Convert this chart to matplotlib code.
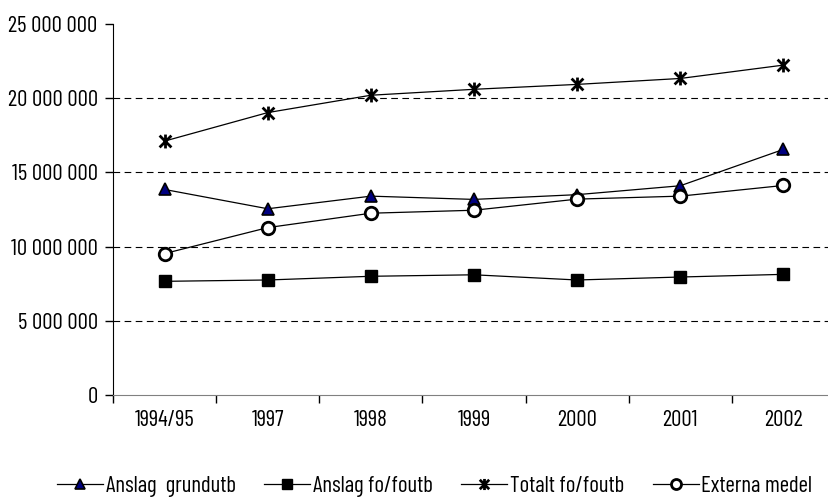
import matplotlib
matplotlib.use("Agg")
import matplotlib.pyplot as plt
from matplotlib.path import Path
import numpy as np

categories = ["1994/95", "1997", "1998", "1999", "2000", "2001", "2002"]
anslag_grundutb = [13850000, 12550000, 13400000, 13180000, 13500000, 14100000, 16550000]
anslag_fo = [7660000, 7750000, 8000000, 8100000, 7750000, 7950000, 8130000]
totalt_fo = [17110000, 19030000, 20200000, 20600000, 20930000, 21330000, 22230000]
externa = [9530000, 11280000, 12250000, 12450000, 13200000, 13400000, 14120000]
labels = ["Anslag  grundutb", "Anslag fo/foutb", "Totalt fo/foutb", "Externa medel"]
yticks = [0, 5000000, 10000000, 15000000, 20000000, 25000000]

plt.rcParams['font.family'] = ['Barlow Condensed', 'DejaVu Sans']
fs = 16.5

star = Path([(0, -1), (0, 1), (-0.85, -0.85), (0.85, 0.85), (-0.85, 0.85), (0.85, -0.85)],
            [Path.MOVETO, Path.LINETO, Path.MOVETO, Path.LINETO, Path.MOVETO, Path.LINETO])

fig = plt.figure(figsize=(8.29, 4.99), dpi=100)
ax = fig.add_axes([113/829, 104/499, 722/829, 371/499])
x = np.arange(len(categories))

ax.plot(x, anslag_grundutb, color='black', lw=0.9, marker='^', ms=9, mfc='#000080', mec='black', mew=1.2, label=labels[0], zorder=3)
ax.plot(x, anslag_fo, color='black', lw=0.9, marker='s', ms=9, mfc='black', mec='black', label=labels[1], zorder=3)
ax.plot(x, totalt_fo, color='black', lw=0.9, marker=star, ms=10, mec='black', mew=2, label=labels[2], zorder=3)
ax.plot(x, externa, color='black', lw=0.9, marker='o', ms=9, mfc='white', mec='black', mew=2, label=labels[3], zorder=3)

for v in yticks[1:-1]:
    ax.axhline(v, color='black', lw=0.8, dashes=(6, 4), zorder=1)

ax.set_xlim(-0.5, len(categories) - 0.5)
ax.set_ylim(0, 25000000)
ax.set_yticks(yticks)
ax.set_yticklabels([f"{v:,}".replace(",", " ") for v in yticks], fontsize=fs)
ax.set_xticks(np.arange(len(categories) + 1) - 0.5, minor=False)
ax.set_xticklabels([])
ax.set_xticks(x, minor=True)
ax.set_xticklabels(categories, minor=True, fontsize=fs)
ax.tick_params(axis='x', which='minor', length=0, pad=11)
ax.tick_params(axis='x', which='major', length=6, color='black', width=1)
ax.tick_params(axis='y', length=6, width=1, pad=5)
for s in ['top', 'right']:
    ax.spines[s].set_visible(False)
ax.spines['bottom'].set_color('#808080')
ax.spines['left'].set_color('black')

fig.legend(loc='center left', bbox_to_anchor=(57/829, 13/499), ncol=4, frameon=False, fontsize=fs,
           handlelength=2.0, columnspacing=1.25, handletextpad=0.12, borderaxespad=0, borderpad=0,
           markerscale=0.8)

fig.savefig("out.png", dpi=100)
